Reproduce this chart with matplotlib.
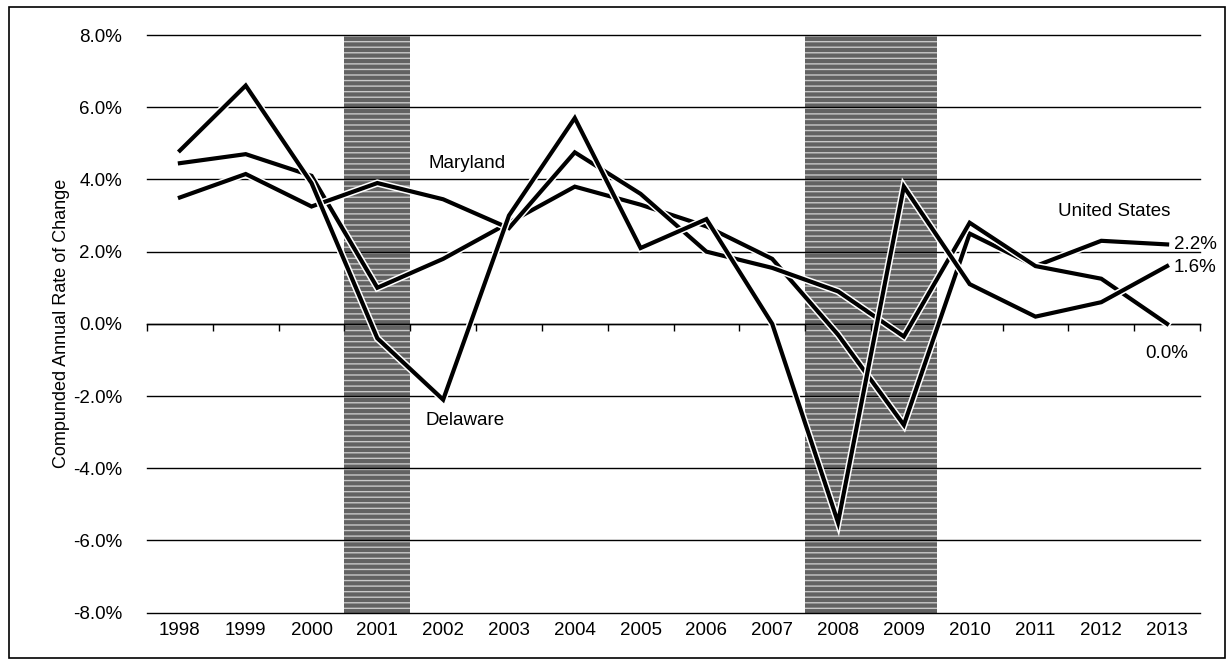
import matplotlib
matplotlib.use("Agg")
import matplotlib.pyplot as plt
import matplotlib.patheffects as pe
from matplotlib.patches import Rectangle

plt.rcParams['font.family'] = ['Liberation Sans', 'DejaVu Sans']

years = list(range(1998, 2014))
united_states = [4.45, 4.7, 4.1, 1.0, 1.8, 2.8, 3.8, 3.3, 2.7, 1.8, -0.3, -2.8, 2.5, 1.6, 2.3, 2.2]
maryland = [3.5, 4.15, 3.25, 3.9, 3.45, 2.65, 4.75, 3.6, 2.0, 1.55, 0.9, -0.35, 2.8, 1.6, 1.25, 0.0]
delaware = [4.8, 6.6, 3.9, -0.4, -2.1, 3.0, 5.7, 2.1, 2.9, 0.0, -5.5, 3.8, 1.1, 0.2, 0.6, 1.6]
recessions = [(2001, 2001), (2008, 2009)]
y_ticks = [-8, -6, -4, -2, 0, 2, 4, 6, 8]

fig = plt.figure(figsize=(12.29, 6.6), dpi=100)
ax = fig.add_axes([147 / 1229, 1 - 612.7 / 660, (1200 - 147) / 1229, (612.7 - 35) / 660])

# outer frame around the whole chart
fig.add_artist(Rectangle((9 / 1229, 2 / 660), 1216 / 1229, 651 / 660,
                         transform=fig.transFigure, fill=False,
                         edgecolor='black', linewidth=1.2))

ax.set_xlim(years[0] - 0.5, years[-1] + 0.5)
ax.set_ylim(y_ticks[0], y_ticks[-1])

# shaded recession periods
for start, end in recessions:
    ax.axvspan(start - 0.5, end + 0.5, facecolor='#626262', edgecolor='#c8c8c8',
               hatch='---', linewidth=0, zorder=1)

# horizontal gridlines
for v in y_ticks:
    ax.axhline(v, color='black', linewidth=1.0, zorder=2, clip_on=False)

outline = [pe.Stroke(linewidth=5.2, foreground='white'), pe.Normal()]
for series in (united_states, maryland, delaware):
    ax.plot(years, series, color='black', linewidth=3.0, solid_joinstyle='miter',
            path_effects=outline, zorder=4)

# spines / axis at zero with tick marks between categories
for side in ('left', 'right', 'top'):
    ax.spines[side].set_visible(False)
ax.spines['bottom'].set_position(('data', 0))
ax.spines['bottom'].set_linewidth(1.0)
ax.set_xticks([y - 0.5 for y in years] + [years[-1] + 0.5])
ax.tick_params(axis='x', direction='out', length=5, width=1.0, labelbottom=False)

ax.set_yticks(y_ticks)
ax.set_yticklabels([f"{v:.1f}%" for v in y_ticks], fontsize=13.5)
ax.tick_params(axis='y', length=0, pad=18)

sec = ax.secondary_xaxis(0.0)
sec.set_xticks(years)
sec.set_xticklabels([str(y) for y in years], fontsize=13.5)
sec.tick_params(length=0, pad=7)
sec.spines['bottom'].set_visible(False)

ax.set_ylabel("Compunded Annual Rate of Change", fontsize=13, labelpad=2)

ax.text(2002.36, 4.43, "Maryland", fontsize=13.5, ha='center', va='center', zorder=5)
ax.text(2002.33, -2.69, "Delaware", fontsize=13.5, ha='center', va='center', zorder=5)
ax.text(2012.2, 3.11, "United States", fontsize=13.5, ha='center', va='center', zorder=5)
ax.text(years[-1] + 0.1, united_states[-1], f"{united_states[-1]:.1f}%", fontsize=13.5,
        ha='left', va='center', zorder=5)
ax.text(years[-1] + 0.1, delaware[-1] - 0.05, f"{delaware[-1]:.1f}%", fontsize=13.5,
        ha='left', va='center', zorder=5)
ax.text(years[-1], maryland[-1] - 0.83, f"{maryland[-1]:.1f}%", fontsize=13.5,
        ha='center', va='center', zorder=5)

fig.savefig("out.png", dpi=100)
